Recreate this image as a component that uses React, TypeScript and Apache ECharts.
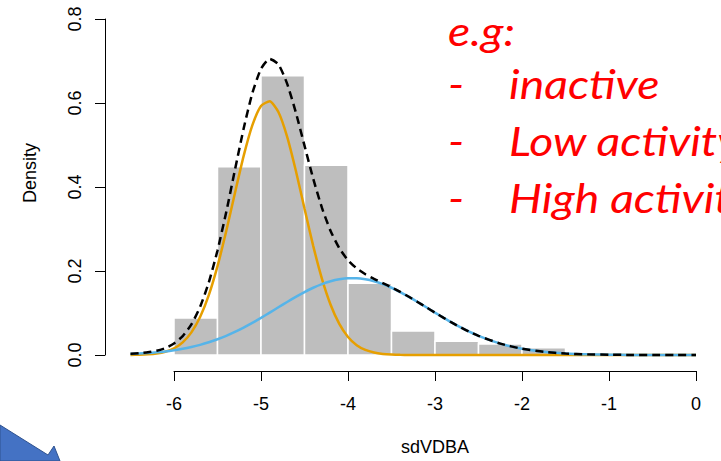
import React, { useEffect, useRef } from "react";
import * as echarts from "echarts";

// Histogram bins (start, end) and densities
const binStarts = [-6, -5.5, -5, -4.5, -4, -3.5, -3, -2.5, -2];
const binEnds = [-5.5, -5, -4.5, -4, -3.5, -3, -2.5, -2, -1.5];
const binDensity = [0.088, 0.448, 0.665, 0.452, 0.171, 0.057, 0.033, 0.026, 0.017];

// Curve sample positions
const curveX = [
  -6.5, -6.4, -6.3, -6.2, -6.1, -6.0, -5.9, -5.8, -5.7, -5.6, -5.5, -5.4, -5.3, -5.2, -5.1,
  -5.0, -4.9, -4.8, -4.7, -4.6, -4.5, -4.4, -4.3, -4.2, -4.1, -4.0, -3.9, -3.8, -3.7, -3.6,
  -3.5, -3.4, -3.3, -3.2, -3.1, -3.0, -2.9, -2.8, -2.7, -2.6, -2.5, -2.25, -2.0, -1.75,
  -1.5, -1.25, -1.0, -0.75, -0.5, -0.25, 0,
];
// Inactive component (orange)
const orangeY = [
  0.0002, 0.0006, 0.0016, 0.0036, 0.0078, 0.0158, 0.0301, 0.0538, 0.0904, 0.1426, 0.2115,
  0.2945, 0.3853, 0.4735, 0.5467, 0.593, 0.6042, 0.5784, 0.52, 0.4393, 0.3487, 0.2599, 0.182,
  0.1197, 0.074, 0.043, 0.0234, 0.012, 0.0058, 0.0026, 0.0011, 0.0004, 0.0002, 0.0001, 0, 0, 0,
  0, 0, 0, 0, 0, 0, 0, 0, 0, 0, 0, 0, 0, 0,
];
// Active component (blue)
const blueY = [
  0.0025, 0.0035, 0.0048, 0.0065, 0.0086, 0.0114, 0.0148, 0.0191, 0.0242, 0.0303, 0.0374,
  0.0456, 0.0549, 0.0652, 0.0764, 0.0884, 0.1008, 0.1136, 0.1262, 0.1384, 0.1499, 0.1601,
  0.1688, 0.1756, 0.1803, 0.1827, 0.1827, 0.1803, 0.1756, 0.1688, 0.1601, 0.1499, 0.1384,
  0.1262, 0.1136, 0.1008, 0.0884, 0.0764, 0.0652, 0.0549, 0.0456, 0.0271, 0.0148, 0.0075,
  0.0035, 0.0015, 0.0006, 0.0002, 0.0001, 0, 0,
];
// Total mixture (black dashed)
const totalY = [
  0.0027, 0.0041, 0.0064, 0.0101, 0.0164, 0.0272, 0.0449, 0.0729, 0.1146, 0.1729, 0.2489,
  0.3401, 0.4402, 0.5387, 0.6231, 0.6814, 0.705, 0.692, 0.6462, 0.5777, 0.4986, 0.42, 0.3508,
  0.2953, 0.2543, 0.2257, 0.2061, 0.1923, 0.1814, 0.1714, 0.1612, 0.1503, 0.1386, 0.1263,
  0.1136, 0.1008, 0.0884, 0.0764, 0.0652, 0.0549, 0.0456, 0.0271, 0.0148, 0.0075, 0.0035,
  0.0015, 0.0006, 0.0002, 0.0001, 0, 0,
];

const dataXRange = [-6.5, 0];
const xTicks = [-6, 0, 1];
const yTicks = [0, 0.8, 0.2];
const textLines = ["e.g:", "inactive", "Low activity", "High activity"];

export default function App() {
  const ref = useRef<HTMLDivElement>(null);
  useEffect(() => {
    document.body.style.margin = "0";
    const chart = echarts.init(ref.current!, null, { renderer: "svg" });
    const zip = (ys: number[]) => curveX.map((x, i) => [x, ys[i]]);
    const font = "Liberation Sans";
    const redFont = "Lato";
    const redStyle = (t: string) => ({
      text: t,
      fill: "#ff0000",
      font: `italic 40px "${redFont}"`,
      textVerticalAlign: "middle",
    });
    const hidden = { show: false };
    chart.setOption({
      animation: false,
      backgroundColor: "#ffffff",
      grid: [
        { left: 130.5, right: 25, top: 19, bottom: 106 },
        { left: 174, right: 25, top: 19, bottom: 90 },
        { left: 105, right: 25, top: 19, bottom: 106 },
      ],
      xAxis: [
        { type: "value", gridIndex: 0, min: dataXRange[0], max: dataXRange[1], ...hidden },
        {
          type: "value",
          gridIndex: 1,
          min: xTicks[0],
          max: xTicks[1],
          interval: xTicks[2],
          axisLine: { show: true, lineStyle: { color: "#000", width: 1 } },
          axisTick: { show: true, length: 10, lineStyle: { color: "#000", width: 1 } },
          axisLabel: { color: "#000", fontFamily: font, fontSize: 18, margin: 24 },
          splitLine: { show: false },
          name: "sdVDBA",
          nameLocation: "middle",
          nameGap: 67,
          nameTextStyle: { color: "#000", fontFamily: font, fontSize: 18 },
        },
        { type: "value", gridIndex: 2, min: 0, max: 1, ...hidden },
      ],
      yAxis: [
        { type: "value", gridIndex: 0, min: yTicks[0], max: yTicks[1], ...hidden },
        { type: "value", gridIndex: 1, min: 0, max: 1, ...hidden },
        {
          type: "value",
          gridIndex: 2,
          min: yTicks[0],
          max: yTicks[1],
          interval: yTicks[2],
          axisLine: { show: true, lineStyle: { color: "#000", width: 1 } },
          axisTick: { show: true, length: 10, lineStyle: { color: "#000", width: 1 } },
          axisLabel: {
            color: "#000",
            fontFamily: font,
            fontSize: 18,
            rotate: 90,
            margin: 21,
            formatter: (v: number) => v.toFixed(1),
          },
          splitLine: { show: false },
        },
      ],
      graphic: [
        {
          type: "text",
          x: 30,
          y: 173,
          rotation: Math.PI / 2,
          style: {
            text: "Density",
            fill: "#000",
            font: `18px "${font}"`,
            textAlign: "center",
            textVerticalAlign: "middle",
          },
        },
        { type: "text", x: 448, y: 30, scaleX: 1.16, style: redStyle(textLines[0]) },
        ...[1, 2, 3].map((i) => ({
          type: "group",
          children: [
            { type: "text", x: 448, y: 26 + i * 57, scaleX: 1.16, style: redStyle("-") },
            { type: "text", x: 509, y: 26 + i * 57, scaleX: 1.16, style: redStyle(textLines[i]) },
          ],
        })),
        {
          type: "polygon",
          shape: {
            points: [
              [0, 425],
              [48, 455],
              [54, 446],
              [60, 461],
              [0, 461],
            ],
          },
          style: { fill: "#4472C4", stroke: "#2F528F", lineWidth: 1 },
        },
      ],
      series: [
        {
          type: "custom",
          xAxisIndex: 0,
          yAxisIndex: 0,
          data: binStarts.map((s, i) => [s, binEnds[i], binDensity[i]]),
          encode: { x: [0, 1], y: 2 },
          renderItem: (params: any, api: any) => {
            const p0 = api.coord([api.value(0), api.value(2)]);
            const p1 = api.coord([api.value(1), 0]);
            return {
              type: "rect",
              shape: { x: p0[0], y: p0[1], width: p1[0] - p0[0], height: p1[1] - p0[1] },
              style: { fill: "#bebebe", stroke: "#ffffff", lineWidth: 1.5 },
            };
          },
          z: 1,
        },
        {
          type: "line",
          xAxisIndex: 0,
          yAxisIndex: 0,
          data: zip(orangeY),
          clip: false,
          showSymbol: false,
          smooth: 0.2,
          lineStyle: { color: "#E69F00", width: 2.5 },
          z: 2,
        },
        {
          type: "line",
          xAxisIndex: 0,
          yAxisIndex: 0,
          data: zip(blueY),
          clip: false,
          showSymbol: false,
          smooth: 0.2,
          lineStyle: { color: "#56B4E9", width: 2.5 },
          z: 3,
        },
        {
          type: "line",
          xAxisIndex: 0,
          yAxisIndex: 0,
          data: zip(totalY),
          clip: false,
          showSymbol: false,
          smooth: 0.2,
          lineStyle: { color: "#000000", width: 2.5, type: [8, 5] },
          z: 4,
        },
      ],
    });
    return () => chart.dispose();
  }, []);
  return <div ref={ref} style={{ width: 721, height: 461 }} />;
}
